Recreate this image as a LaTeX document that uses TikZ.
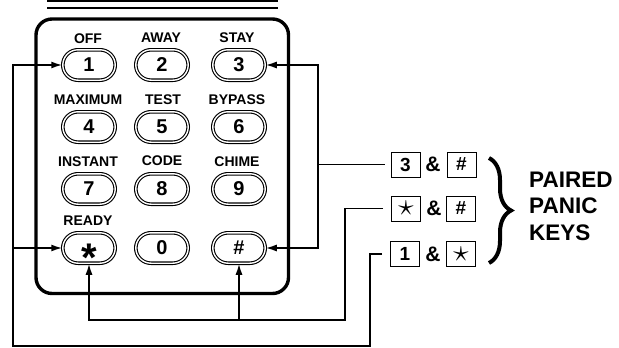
\documentclass[tikz,border=0pt]{standalone}
\usepackage{fontspec}
\setmainfont{Liberation Sans}
\usetikzlibrary{shapes.misc,arrows.meta,decorations.pathreplacing}
\begin{document}
\begin{tikzpicture}[x=1pt,y=-1pt,
 key/.style={rounded rectangle, draw, line width=1.1pt, double=white, double distance=1.4pt,
   minimum width=52.4pt, minimum height=30.4pt, inner sep=0pt, font=\fontsize{20}{20}\selectfont\bfseries},
 lab/.style={font=\fontsize{14}{14}\selectfont\bfseries, inner sep=0pt},
 conn/.style={line width=1.6pt},
 arr/.style={conn, -{Latex[length=11pt,width=7pt]}},
 sbox/.style={draw, line width=1pt, minimum width=29pt, minimum height=25pt, inner sep=0pt,
   font=\fontsize{19}{19}\selectfont\bfseries},
 amp/.style={font=\fontsize{21}{21}\selectfont\bfseries, inner sep=0pt},
 sstar/.style={}]
\useasboundingbox (0,0) rectangle (619,348);
% top double line
\draw[line width=2pt] (47,1.2) -- (278,1.2);
\draw[line width=2pt] (47,8.3) -- (278,8.3);
% keypad frame
\draw[line width=3.4pt, rounded corners=16pt] (36,19) rectangle (288.5,293.5);
% keys
\node[key] (k1) at (89,65) {1};
\node[key] (k2) at (162,65) {2};
\node[key] (k3) at (239,65) {3};
\node[key] (k4) at (89,127) {4};
\node[key] (k5) at (162,127) {5};
\node[key] (k6) at (239,127) {6};
\node[key] (k7) at (89,189) {7};
\node[key] (k8) at (162,189) {8};
\node[key] (k9) at (239,189) {9};
\node[key] (ks) at (89,248) {\raisebox{-23pt}[0pt][0pt]{\fontsize{40}{40}\selectfont *}};
\node[key] (k0) at (162,248) {0};
\node[key] (kh) at (239,248) {\#};
% labels
\node[lab] (lOFF) at (88,39) {OFF};
\node[lab] (lAWAY) at (161,38) {AWAY};
\node[lab] (lSTAY) at (237,38) {STAY};
\node[lab] (lMAX) at (88,100) {MAXIMUM};
\node[lab] (lTEST) at (163,100) {TEST};
\node[lab] (lBYP) at (237,100) {BYPASS};
\node[lab] (lINST) at (88,162) {INSTANT};
\node[lab] (lCODE) at (162,161) {CODE};
\node[lab] (lCHIME) at (237,162) {CHIME};
\node[lab] (lREADY) at (88,221) {READY};
% paired panic key boxes
\node[sbox] (b3) at (405.5,164.5) {3};
\node[amp] (a1) at (433,164.5) {\&};
\node[sbox] (bh1) at (461.5,164.5) {\#};
\node[sbox] (bs) at (406,208.5) {\scalebox{1.8}{$\star$}};
\node[amp] (a2) at (434,208.5) {\&};
\node[sbox] (bh2) at (461,208.5) {\#};
\node[sbox] (b1) at (405,254) {1};
\node[amp] (a3) at (433,254) {\&};
\node[sbox] (bs2) at (461,254) {\scalebox{1.8}{$\star$}};
% brace and text
\draw[line width=4pt, decorate, decoration={brace, amplitude=22pt}] (489,158) -- (489,263);
\node[anchor=west, align=left, inner sep=0pt, font=\fontsize{22.5}{26.5}\selectfont\bfseries] (pk) at (529,206) {PAIRED\\PANIC\\KEYS};
% connectors
\coordinate (pL) at (13,346);
\coordinate (pR1) at (370,346);
\draw[arr, shorten <=8pt] (b1.west) -| (pR1) -- (pL) |- (k1.west);
\draw[arr] (pL |- ks.west) -- (ks.west);
\coordinate (pB) at (345,320);
\draw[arr, shorten <=8pt] (bs.west) -| (pB) -| (ks.south);
\draw[arr] (kh.south |- pB) -- (kh.south);
\coordinate (pC) at (318,164.5);
\draw[conn, shorten <=6pt] (b3.west) -- (pC);
\draw[arr] (pC) |- (k3.east);
\draw[arr] (pC) |- (kh.east);
\end{tikzpicture}
\end{document}
